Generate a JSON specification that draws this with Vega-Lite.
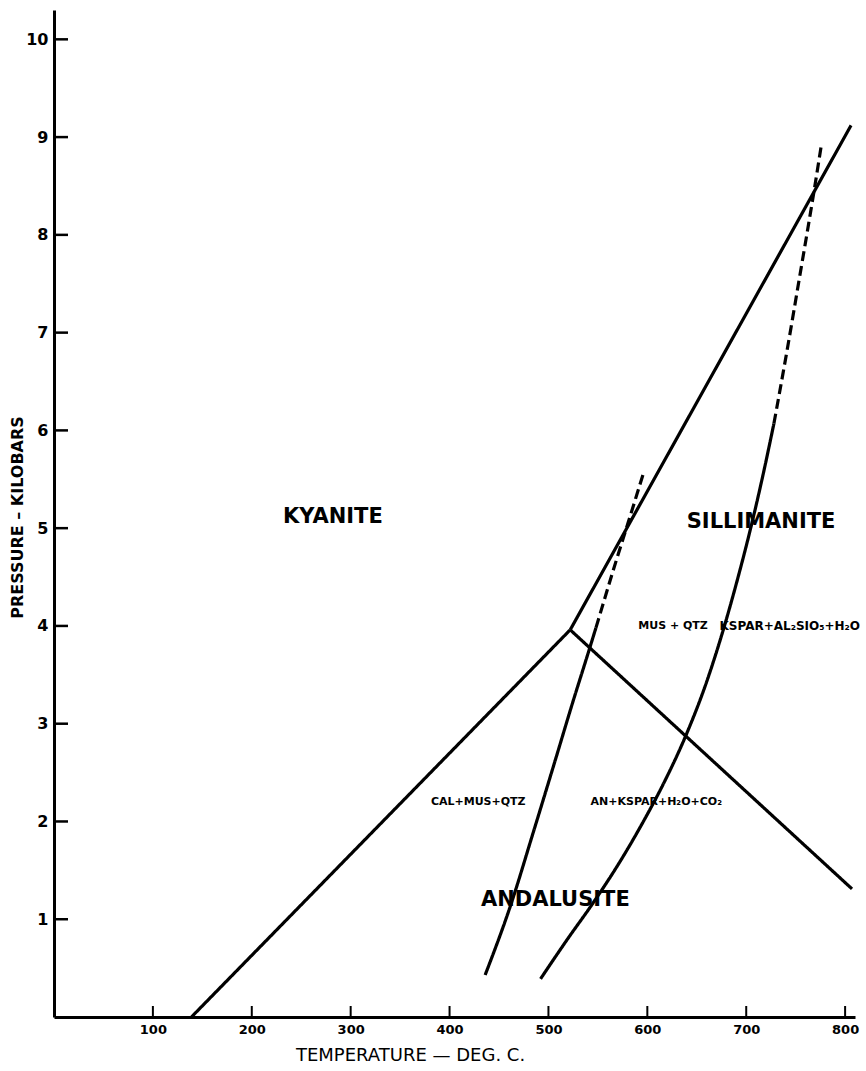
{
  "$schema": "https://vega.github.io/schema/vega-lite/v6.json",
  "width": 801,
  "height": 1007,
  "autosize": {"type": "none"},
  "padding": {"left": 54, "top": 10, "right": 11, "bottom": 54},
  "background": "white",
  "config": {
    "view": {"stroke": null},
    "axis": {"grid": false, "domainColor": "black", "tickColor": "black", "labelColor": "black", "titleColor": "black"}
  },
  "datasets": {
    "lines": [
      {"curve": "ky-and", "part": "solid", "i": 0, "T": 139, "P": 0},
      {"curve": "ky-and", "part": "solid", "i": 1, "T": 522, "P": 3.96},
      {"curve": "ky-sil", "part": "solid", "i": 0, "T": 522, "P": 3.96},
      {"curve": "ky-sil", "part": "solid", "i": 1, "T": 806, "P": 9.12},
      {"curve": "and-sil", "part": "solid", "i": 0, "T": 522, "P": 3.96},
      {"curve": "and-sil", "part": "solid", "i": 1, "T": 807, "P": 1.31},
      {"curve": "cal-mus", "part": "solid", "i": 0, "T": 436, "P": 0.43},
      {"curve": "cal-mus", "part": "solid", "i": 1, "T": 462, "P": 1.15},
      {"curve": "cal-mus", "part": "solid", "i": 2, "T": 485, "P": 1.9},
      {"curve": "cal-mus", "part": "solid", "i": 3, "T": 507, "P": 2.63},
      {"curve": "cal-mus", "part": "solid", "i": 4, "T": 524, "P": 3.2},
      {"curve": "cal-mus", "part": "solid", "i": 5, "T": 541, "P": 3.75},
      {"curve": "cal-mus", "part": "solid", "i": 6, "T": 548, "P": 3.98},
      {"curve": "cal-mus", "part": "dashed", "i": 7, "T": 548, "P": 3.98},
      {"curve": "cal-mus", "part": "dashed", "i": 8, "T": 568, "P": 4.65},
      {"curve": "cal-mus", "part": "dashed", "i": 9, "T": 581, "P": 5.07},
      {"curve": "cal-mus", "part": "dashed", "i": 10, "T": 596, "P": 5.56},
      {"curve": "mus-qtz", "part": "solid", "i": 0, "T": 492, "P": 0.39},
      {"curve": "mus-qtz", "part": "solid", "i": 1, "T": 519.5, "P": 0.8},
      {"curve": "mus-qtz", "part": "solid", "i": 2, "T": 544, "P": 1.15},
      {"curve": "mus-qtz", "part": "solid", "i": 3, "T": 573, "P": 1.6},
      {"curve": "mus-qtz", "part": "solid", "i": 4, "T": 596, "P": 2.0},
      {"curve": "mus-qtz", "part": "solid", "i": 5, "T": 617, "P": 2.4},
      {"curve": "mus-qtz", "part": "solid", "i": 6, "T": 639, "P": 2.88},
      {"curve": "mus-qtz", "part": "solid", "i": 7, "T": 659, "P": 3.4},
      {"curve": "mus-qtz", "part": "solid", "i": 8, "T": 675, "P": 3.9},
      {"curve": "mus-qtz", "part": "solid", "i": 9, "T": 691, "P": 4.47},
      {"curve": "mus-qtz", "part": "solid", "i": 10, "T": 704.5, "P": 5.0},
      {"curve": "mus-qtz", "part": "solid", "i": 11, "T": 716, "P": 5.5},
      {"curve": "mus-qtz", "part": "solid", "i": 12, "T": 728, "P": 6.07},
      {"curve": "mus-qtz", "part": "dashed", "i": 13, "T": 728, "P": 6.07},
      {"curve": "mus-qtz", "part": "dashed", "i": 14, "T": 741, "P": 6.8},
      {"curve": "mus-qtz", "part": "dashed", "i": 15, "T": 754.5, "P": 7.6},
      {"curve": "mus-qtz", "part": "dashed", "i": 16, "T": 767, "P": 8.35},
      {"curve": "mus-qtz", "part": "dashed", "i": 17, "T": 776, "P": 8.92}
    ],
    "xticks": [
      {"T": 100, "P": 0}, {"T": 200, "P": 0}, {"T": 300, "P": 0}, {"T": 400, "P": 0},
      {"T": 500, "P": 0}, {"T": 600, "P": 0}, {"T": 700, "P": 0}, {"T": 800, "P": 0}
    ],
    "yticks": [
      {"T": 0, "P": 1}, {"T": 0, "P": 2}, {"T": 0, "P": 3}, {"T": 0, "P": 4}, {"T": 0, "P": 5},
      {"T": 0, "P": 6}, {"T": 0, "P": 7}, {"T": 0, "P": 8}, {"T": 0, "P": 9}, {"T": 0, "P": 10}
    ],
    "minerals": [
      {"label": "KYANITE", "T": 282, "P": 5.11},
      {"label": "SILLIMANITE", "T": 715, "P": 5.06},
      {"label": "ANDALUSITE", "T": 507, "P": 1.2}
    ],
    "reactions": [
      {"label": "CAL+MUS+QTZ", "T": 429, "P": 2.2},
      {"label": "AN+KSPAR+H₂O+CO₂", "T": 609, "P": 2.2},
      {"label": "MUS + QTZ", "T": 626, "P": 4.0}
    ],
    "reactions2": [
      {"label": "KSPAR+AL₂SIO₅+H₂O", "T": 673, "P": 4.0}
    ]
  },
  "encoding": {
    "x": {
      "field": "T", "type": "quantitative",
      "scale": {"domain": [0, 810], "nice": false, "zero": false},
      "axis": {
        "title": "TEMPERATURE — DEG. C.",
        "values": [100, 200, 300, 400, 500, 600, 700, 800],
        "domainWidth": 3, "ticks": false, "labelPadding": 6,
        "labelFont": "DejaVu Sans", "labelFontSize": 13, "labelFontWeight": "bold",
        "titleFont": "DejaVu Sans", "titleFontSize": 18, "titleFontWeight": "normal",
        "titleX": 356, "titleAlign": "center", "titlePadding": 10
      }
    },
    "y": {
      "field": "P", "type": "quantitative",
      "scale": {"domain": [0, 10.3], "nice": false, "zero": false},
      "axis": {
        "title": "PRESSURE – KILOBARS",
        "values": [1, 2, 3, 4, 5, 6, 7, 8, 9, 10],
        "domainWidth": 3, "ticks": false, "labelPadding": 6,
        "labelFont": "DejaVu Sans", "labelFontSize": 16, "labelFontWeight": "bold",
        "titleFont": "DejaVu Sans", "titleFontSize": 16, "titleFontWeight": "bold",
        "titleX": -29, "titleY": 507, "titleAlign": "center", "titleBaseline": "bottom", "titleAngle": -90
      }
    }
  },
  "layer": [
    {
      "data": {"name": "xticks"},
      "mark": {"type": "rule", "color": "black", "strokeWidth": 2, "y2Offset": -11},
      "encoding": {"y2": {"field": "P"}}
    },
    {
      "data": {"name": "yticks"},
      "mark": {"type": "rule", "color": "black", "strokeWidth": 2.5, "x2Offset": 14},
      "encoding": {"x2": {"field": "T"}}
    },
    {
      "data": {"name": "lines"},
      "mark": {"type": "line", "stroke": "black", "strokeWidth": 3.2, "strokeCap": "butt", "interpolate": "monotone"},
      "encoding": {
        "detail": {"field": "curve"},
        "order": {"field": "i", "type": "quantitative"},
        "strokeDash": {"field": "part", "type": "nominal", "scale": {"domain": ["solid", "dashed"], "range": [[1, 0], [10, 5]]}, "legend": null}
      }
    },
    {
      "data": {"name": "minerals"},
      "mark": {"type": "text", "font": "DejaVu Sans", "fontSize": 21, "fontWeight": "bold", "color": "black", "align": "center", "baseline": "middle"},
      "encoding": {"text": {"field": "label"}}
    },
    {
      "data": {"name": "reactions"},
      "mark": {"type": "text", "font": "DejaVu Sans", "fontSize": 11, "fontWeight": "bold", "color": "black", "align": "center", "baseline": "middle"},
      "encoding": {"text": {"field": "label"}}
    },
    {
      "data": {"name": "reactions2"},
      "mark": {"type": "text", "font": "DejaVu Sans", "fontSize": 12, "fontWeight": "bold", "color": "black", "align": "left", "baseline": "middle"},
      "encoding": {"text": {"field": "label"}}
    }
  ]
}
